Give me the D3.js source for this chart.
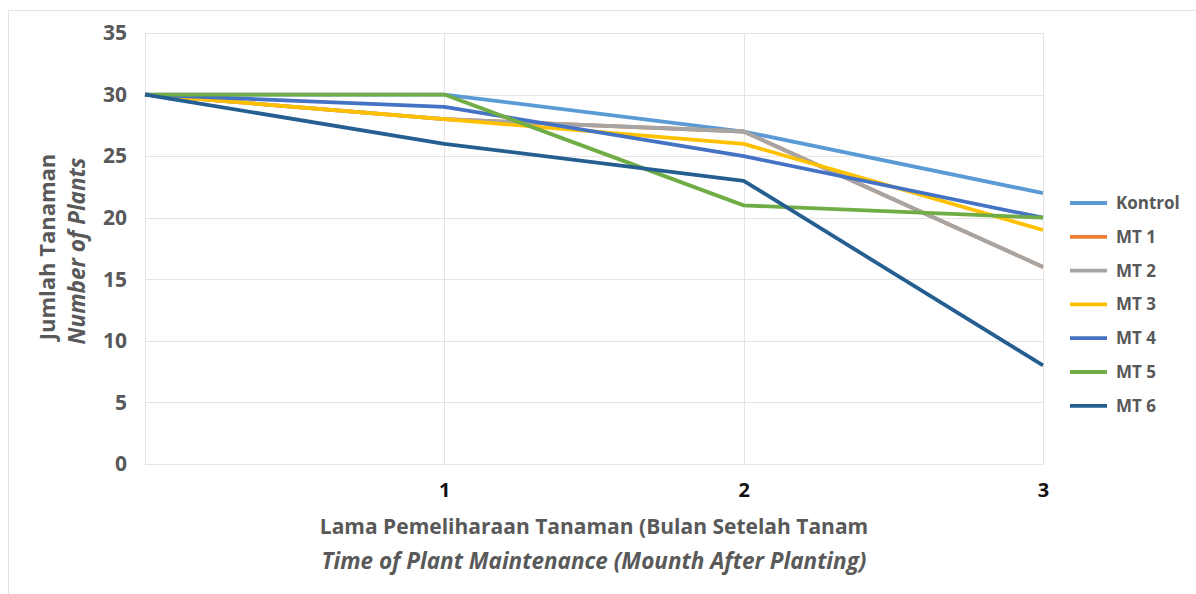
<!DOCTYPE html>
<html>
<head>
<meta charset="utf-8">
<script src="https://cdn.jsdelivr.net/npm/d3@7"></script>
<style>
  html, body { margin: 0; padding: 0; background: #fff; }
  svg { display: block; }
  text { font-family: "Open Sans", "Noto Sans", sans-serif; }
</style>
</head>
<body>
<svg id="chart" width="1196" height="594"></svg>
<script>
// Months after planting (0 = at planting, unlabeled)
const months = [0, 1, 2, 3];
const monthLabels = ["", "1", "2", "3"];
const seriesNames = ["Kontrol", "MT 1", "MT 2", "MT 3", "MT 4", "MT 5", "MT 6"];
const kontrol = [30, 30, 27, 22];
const mt1 = [30, 28, 27, 16];
const mt2 = [30, 28, 27, 16];
const mt3 = [30, 28, 26, 19];
const mt4 = [30, 29, 25, 20];
const mt5 = [30, 30, 21, 20];
const mt6 = [30, 26, 23, 8];
const yTicks = [0, 5, 10, 15, 20, 25, 30, 35];
const colors = ["#5B9BD5", "#ED7D31", "#A5A5A5", "#FFC000", "#4472C4", "#70AD47", "#255E91"];

const seriesValues = [kontrol, mt1, mt2, mt3, mt4, mt5, mt6];
const series = seriesNames.map((name, i) => ({ name, values: seriesValues[i], color: colors[i] }));

const svg = d3.select("#chart");
const plotLeft = 145, plotRight = 1043, plotTop = 33, plotBottom = 464;

// outer chart frame
svg.append("rect")
  .attr("x", 8.5).attr("y", 10.5).attr("width", 1200).attr("height", 1000)
  .attr("fill", "none").attr("stroke", "#e3e3e3").attr("stroke-width", 1);

const x = d3.scaleLinear().domain([0, 3]).range([plotLeft, plotRight]);
const y = d3.scaleLinear().domain([0, 35]).range([plotBottom, plotTop]);

// horizontal gridlines
svg.append("g").selectAll("line").data(yTicks).join("line")
  .attr("x1", plotLeft).attr("x2", plotRight)
  .attr("y1", d => Math.round(y(d)) + 0.5).attr("y2", d => Math.round(y(d)) + 0.5)
  .attr("stroke", "#e4e4e4").attr("stroke-width", 1);

// vertical gridlines
svg.append("g").selectAll("line").data(months).join("line")
  .attr("x1", d => Math.round(x(d)) + 0.5).attr("x2", d => Math.round(x(d)) + 0.5)
  .attr("y1", plotTop).attr("y2", plotBottom)
  .attr("stroke", "#e4e4e4").attr("stroke-width", 1);

// y axis
const yAxis = svg.append("g").attr("transform", `translate(${plotLeft},0)`)
  .call(d3.axisLeft(y).tickValues(yTicks).tickSize(0).tickPadding(18));
yAxis.select(".domain").remove();
yAxis.selectAll("text")
  .attr("fill", "#595959").attr("font-size", 21).attr("font-weight", 700);

// x axis
const xAxis = svg.append("g").attr("transform", `translate(0,${plotBottom})`)
  .call(d3.axisBottom(x).tickValues(months).tickFormat((d, i) => monthLabels[i]).tickSize(0).tickPadding(19));
xAxis.select(".domain").remove();
xAxis.selectAll("text")
  .attr("fill", "#111").attr("font-size", 20).attr("font-weight", 700);

// lines
const line = d3.line().x((d, i) => x(months[i])).y(d => y(d));
svg.append("g").selectAll("path").data(series).join("path")
  .attr("d", d => line(d.values))
  .attr("fill", "none").attr("stroke", d => d.color)
  .attr("stroke-width", 3.8).attr("stroke-linejoin", "round");

// legend
const legend = svg.append("g").selectAll("g").data(series).join("g")
  .attr("transform", (d, i) => `translate(1070,${203 + i * 33.8})`);
legend.append("line").attr("x1", 0).attr("x2", 37)
  .attr("stroke", d => d.color).attr("stroke-width", 3.8);
legend.append("text").attr("x", 46).attr("dy", "0.35em")
  .attr("fill", "#595959").attr("font-size", 17).attr("font-weight", 700)
  .text(d => d.name);

// axis titles
svg.append("text")
  .attr("transform", "translate(47,247) rotate(-90)")
  .attr("text-anchor", "middle").attr("dy", "0.35em")
  .attr("fill", "#595959").attr("font-size", 22).attr("font-weight", 700)
  .text("Jumlah Tanaman");
svg.append("text")
  .attr("transform", "translate(77,251) rotate(-90)")
  .attr("text-anchor", "middle").attr("dy", "0.35em")
  .attr("fill", "#595959").attr("font-size", 22.5).attr("font-weight", 700).attr("font-style", "italic")
  .text("Number of Plants");

svg.append("text")
  .attr("x", 594).attr("y", 527).attr("dy", "0.35em").attr("text-anchor", "middle")
  .attr("fill", "#595959").attr("font-size", 21).attr("font-weight", 700)
  .text("Lama Pemeliharaan Tanaman (Bulan Setelah Tanam");
svg.append("text")
  .attr("x", 594).attr("y", 561).attr("dy", "0.35em").attr("text-anchor", "middle")
  .attr("fill", "#595959").attr("font-size", 22.5).attr("font-weight", 700).attr("font-style", "italic")
  .text("Time of Plant Maintenance (Mounth After Planting)");
</script>
</body>
</html>
